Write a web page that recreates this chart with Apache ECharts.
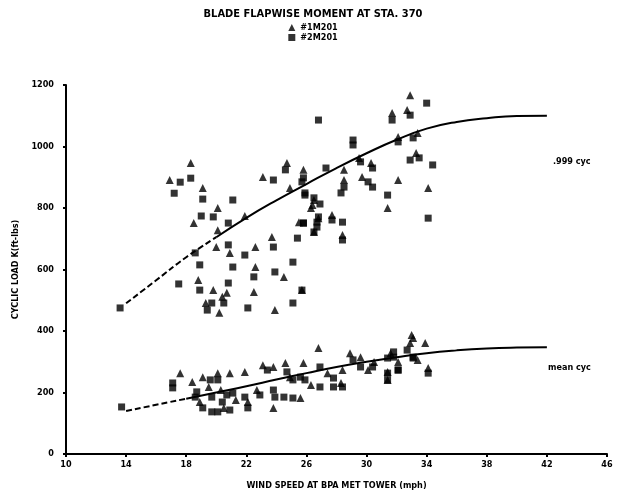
<!DOCTYPE html>
<html>
<head>
<meta charset="utf-8">
<script src="https://cdn.jsdelivr.net/npm/echarts@6/dist/echarts.min.js"></script>
<style>
html, body { margin: 0; padding: 0; background: #fff; }
#chart { width: 626px; height: 497px; }
</style>
</head>
<body>
<div id="chart"></div>
<script>
var xTicks = [10, 14, 18, 22, 26, 30, 34, 38, 42, 46];
var yTicks = [0, 200, 400, 600, 800, 1000, 1200];

// #1M201 (triangles)
var tri = [
	[16.9, 891], [18.3, 946], [19.1, 865], [20.1, 800], [21.9, 774], [18.5, 751], [20.1, 728],
	[20.0, 673], [20.9, 654], [22.6, 673], [23.7, 706], [22.6, 608], [22.5, 527], [24.5, 576],
	[18.8, 566], [19.8, 533], [19.3, 491], [20.4, 511], [20.7, 524], [20.2, 459], [23.9, 468],
	[25.7, 533], [24.7, 946], [23.1, 901], [25.8, 924], [24.9, 865], [26.5, 826], [26.3, 800],
	[25.5, 754], [26.8, 767], [26.5, 722], [34.0, 1203], [32.9, 1167], [31.7, 1109], [32.7, 1119],
	[32.1, 1031], [33.4, 1044], [33.3, 979], [29.5, 963], [30.3, 946], [29.7, 901], [28.5, 924],
	[28.5, 891], [32.1, 891], [34.1, 865], [26.4, 810], [31.4, 800], [27.7, 777], [28.4, 712],
	[17.6, 263], [18.4, 234], [18.9, 169], [19.1, 250], [19.5, 218], [20.1, 263], [20.3, 208],
	[20.5, 150], [20.9, 263], [21.9, 267], [21.3, 176], [22.1, 169], [22.7, 208], [23.1, 289],
	[23.8, 283], [23.8, 150], [24.6, 296], [24.9, 250], [25.6, 182], [25.8, 296], [26.3, 224],
	[26.8, 345], [27.4, 263], [28.4, 273], [28.3, 231], [28.9, 328], [29.6, 315], [30.1, 273],
	[30.5, 299], [31.6, 328], [31.4, 241], [32.1, 299], [32.9, 361], [33.1, 377], [33.4, 306],
	[33.0, 387], [33.9, 361], [34.1, 280], [31.4, 267]
];

// #2M201 (squares)
var sq = [
	[13.6, 475], [17.6, 884], [18.3, 897], [17.2, 848], [19.1, 829], [21.1, 826], [19.8, 771],
	[19.0, 774], [20.8, 751], [18.6, 654], [18.9, 615], [20.8, 680], [21.9, 647], [23.8, 673],
	[21.1, 608], [22.5, 576], [23.9, 592], [25.1, 624], [17.5, 553], [18.9, 533], [19.7, 491],
	[19.4, 468], [20.5, 491], [20.8, 556], [22.1, 475], [25.1, 491], [24.6, 924], [23.8, 891],
	[25.7, 885], [27.3, 930], [25.9, 842], [26.9, 813], [25.8, 751], [26.7, 738], [25.4, 702],
	[34.0, 1141], [31.7, 1086], [32.9, 1102], [26.8, 1086], [29.1, 1021], [29.1, 1005], [32.1, 1015],
	[33.1, 1028], [33.5, 963], [32.9, 956], [34.4, 940], [29.6, 950], [30.4, 930], [30.1, 885],
	[30.4, 868], [25.8, 898], [28.5, 868], [28.3, 849], [25.9, 849], [26.5, 833], [31.4, 842],
	[34.1, 767], [25.8, 751], [26.8, 771], [26.7, 754], [27.7, 761], [28.4, 754], [26.5, 722],
	[28.4, 696], [25.7, 533],
	[13.7, 153], [17.1, 231], [17.1, 215], [18.7, 202], [18.6, 185], [19.1, 150], [19.6, 241],
	[19.7, 185], [20.1, 241], [20.4, 169], [20.1, 137], [19.7, 137], [20.7, 192], [21.1, 198],
	[20.9, 143], [21.9, 185], [22.1, 150], [22.9, 192], [23.4, 273], [23.8, 208], [23.9, 185],
	[24.7, 267], [24.5, 185], [25.1, 182], [25.1, 241], [25.6, 250], [25.9, 241], [26.9, 283],
	[26.9, 218], [27.8, 247], [28.4, 218], [27.8, 218], [29.1, 306], [29.6, 283], [30.4, 283],
	[31.4, 312], [31.8, 315], [31.4, 263], [32.1, 273], [32.7, 338], [33.1, 315], [31.8, 332],
	[34.1, 263], [32.1, 273], [33.1, 312], [31.4, 241]
];

// .999 cyc curve
var curve999X = [14, 16, 18, 20, 22, 24, 26, 28, 30, 32, 34, 36, 38, 40, 42];
var curve999Y = [490, 565, 640, 705, 768, 825, 878, 930, 978, 1022, 1058, 1080, 1092, 1099, 1100];
// mean cyc curve
var curveMeanX = [14, 16, 18, 20, 22, 24, 26, 28, 30, 32, 34, 36, 38, 40, 42];
var curveMeanY = [140, 160, 180, 200, 220, 242, 263, 283, 300, 315, 328, 337, 343, 346, 347];

function pairs(xs, ys, from, to) {
	var out = [];
	for (var i = 0; i < xs.length; i++) {
		if (xs[i] >= from && xs[i] <= to) out.push([xs[i], ys[i]]);
	}
	return out;
}

var font = '"DejaVu Sans Condensed", "DejaVu Sans", sans-serif';
var myChart = echarts.init(document.getElementById('chart'));

var option = {
	backgroundColor: '#fff',
	animation: false,
	textStyle: { fontFamily: font },
	title: {
		text: 'BLADE FLAPWISE MOMENT AT STA. 370',
		left: 'center',
		top: 4,
		textStyle: { fontSize: 11, fontWeight: 'bold', color: '#000', fontFamily: font }
	},
	legend: {
		data: ['#1M201', '#2M201'],
		orient: 'vertical',
		left: 'center',
		top: 18,
		itemGap: 1,
		itemWidth: 7,
		itemHeight: 7,
		textStyle: { fontSize: 9, fontWeight: 'bold', color: '#000' }
	},
	grid: {
		left: 66,
		right: 19,
		top: 85,
		bottom: 43
	},
	xAxis: {
		type: 'value',
		min: 10,
		max: 46,
		interval: 4,
		name: 'WIND SPEED AT BPA MET TOWER (mph)',
		nameLocation: 'middle',
		nameGap: 27,
		nameTextStyle: { fontSize: 9, fontWeight: 'bold', color: '#000' },
		axisLine: { lineStyle: { color: '#000', width: 2 } },
		axisTick: { length: 3, lineStyle: { color: '#000', width: 2 } },
		axisLabel: {
			fontSize: 9, fontWeight: 'bold', color: '#000', margin: 6,
			formatter: function (v) { return xTicks.indexOf(v) >= 0 ? String(v) : ''; }
		},
		splitLine: { show: false }
	},
	yAxis: {
		type: 'value',
		min: 0,
		max: 1200,
		interval: 200,
		name: 'CYCLIC LOAD K(ft-lbs)',
		nameLocation: 'middle',
		nameGap: 46,
		nameTextStyle: { fontSize: 9, fontWeight: 'bold', color: '#000' },
		axisLine: { show: true, lineStyle: { color: '#000', width: 2 } },
		axisTick: { show: true, length: 3, lineStyle: { color: '#000', width: 2 } },
		axisLabel: {
			fontSize: 9, fontWeight: 'bold', color: '#000', margin: 12,
			formatter: function (v) { return yTicks.indexOf(v) >= 0 ? String(v) : ''; }
		},
		splitLine: { show: false }
	},
	series: [{
		name: '#1M201',
		type: 'scatter',
		symbol: 'triangle',
		symbolSize: 8,
		itemStyle: { color: '#000' },
		data: tri
	}, {
		name: '#2M201',
		type: 'scatter',
		symbol: 'rect',
		symbolSize: 7,
		itemStyle: { color: '#000' },
		data: sq
	}, {
		name: '999dash',
		type: 'line',
		smooth: true,
		symbol: 'none',
		lineStyle: { color: '#000', width: 2, type: [6, 3] },
		data: pairs(curve999X, curve999Y, 14, 20)
	}, {
		name: '999',
		type: 'line',
		smooth: true,
		symbol: 'none',
		lineStyle: { color: '#000', width: 2 },
		data: pairs(curve999X, curve999Y, 20, 42)
	}, {
		name: 'meandash',
		type: 'line',
		smooth: true,
		symbol: 'none',
		lineStyle: { color: '#000', width: 2, type: [6, 3] },
		data: pairs(curveMeanX, curveMeanY, 14, 18)
	}, {
		name: 'mean',
		type: 'line',
		smooth: true,
		symbol: 'none',
		lineStyle: { color: '#000', width: 2 },
		data: pairs(curveMeanX, curveMeanY, 18, 42)
	}],
	graphic: [{
		type: 'text',
		left: 553,
		top: 157,
		style: { text: '.999 cyc', fontSize: 9, fontWeight: 'bold', fill: '#000', fontFamily: font }
	}, {
		type: 'text',
		left: 548,
		top: 363,
		style: { text: 'mean cyc', fontSize: 9, fontWeight: 'bold', fill: '#000', fontFamily: font }
	}]
};

myChart.setOption(option);
</script>
</body>
</html>
